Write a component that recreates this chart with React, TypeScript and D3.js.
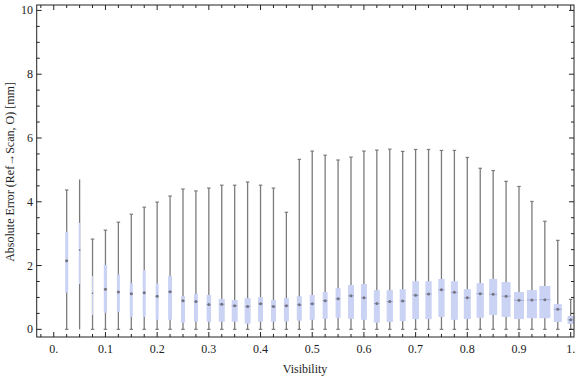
import React from "react";
import * as d3 from "d3";

const visibility = [0.025, 0.05, 0.075, 0.1, 0.125, 0.15, 0.175, 0.2, 0.225, 0.25, 0.275, 0.3, 0.325, 0.35, 0.375, 0.4, 0.425, 0.45, 0.475, 0.5, 0.525, 0.55, 0.575, 0.6, 0.625, 0.65, 0.675, 0.7, 0.725, 0.75, 0.775, 0.8, 0.825, 0.85, 0.875, 0.9, 0.925, 0.95, 0.975, 1.0];
const lowerWhisker = [0, 0, 0, 0, 0, 0, 0, 0, 0, 0, 0, 0, 0, 0, 0, 0, 0, 0, 0, 0, 0, 0, 0, 0, 0, 0, 0, 0, 0, 0, 0, 0, 0, 0, 0, 0, 0, 0, 0, 0];
const q1 = [1.15, 1.42, 0.45, 0.52, 0.55, 0.39, 0.39, 0.30, 0.30, 0.21, 0.24, 0.24, 0.24, 0.24, 0.18, 0.24, 0.24, 0.25, 0.27, 0.30, 0.33, 0.36, 0.33, 0.30, 0.21, 0.23, 0.26, 0.32, 0.32, 0.39, 0.30, 0.32, 0.36, 0.45, 0.39, 0.32, 0.35, 0.35, 0.23, 0.17];
const median = [2.15, 2.49, 1.13, 1.26, 1.17, 1.12, 1.15, 1.04, 1.18, 0.90, 0.87, 0.78, 0.79, 0.74, 0.72, 0.80, 0.72, 0.74, 0.77, 0.80, 0.90, 0.96, 1.05, 0.99, 0.81, 0.87, 0.89, 1.07, 1.11, 1.24, 1.16, 0.99, 1.12, 1.10, 1.04, 0.91, 0.92, 0.93, 0.63, 0.30];
const q3 = [3.06, 3.34, 1.67, 2.02, 1.72, 1.45, 1.86, 1.44, 1.67, 1.04, 1.11, 1.08, 0.95, 0.92, 0.98, 1.01, 0.92, 0.98, 1.04, 1.08, 1.17, 1.29, 1.39, 1.42, 1.23, 1.23, 1.26, 1.51, 1.51, 1.58, 1.51, 1.26, 1.45, 1.58, 1.48, 1.17, 1.23, 1.36, 0.79, 0.42];
const upperWhisker = [4.37, 4.70, 2.83, 3.11, 3.36, 3.61, 3.83, 3.99, 4.18, 4.40, 4.34, 4.43, 4.52, 4.52, 4.62, 4.52, 4.43, 3.67, 5.33, 5.59, 5.46, 5.31, 5.40, 5.59, 5.62, 5.65, 5.58, 5.64, 5.64, 5.61, 5.61, 5.39, 5.05, 4.98, 4.64, 4.48, 4.01, 3.39, 2.79, 0.94];
// box width in visibility units (relative spread)
const boxSpread = [0.0058, 0.0029, 0.0019, 0.0064, 0.0058, 0.0058, 0.0058, 0.0058, 0.0077, 0.0077, 0.0077, 0.0087, 0.0116, 0.0116, 0.0116, 0.0097, 0.0097, 0.0097, 0.0097, 0.0097, 0.0097, 0.0097, 0.0116, 0.0116, 0.0116, 0.0122, 0.0116, 0.0130, 0.0122, 0.0122, 0.0135, 0.0135, 0.0141, 0.0155, 0.0174, 0.0193, 0.0193, 0.0213, 0.0155, 0.0122];

const xMajorTicks = [0, 0.1, 0.2, 0.3, 0.4, 0.5, 0.6, 0.7, 0.8, 0.9, 1.0];
const xTickLabels = ["0.", "0.1", "0.2", "0.3", "0.4", "0.5", "0.6", "0.7", "0.8", "0.9", "1."];
const xMinorTicks = [-0.025, 0.025, 0.05, 0.075, 0.125, 0.15, 0.175, 0.225, 0.25, 0.275, 0.325, 0.35, 0.375, 0.425, 0.45, 0.475, 0.525, 0.55, 0.575, 0.625, 0.65, 0.675, 0.725, 0.75, 0.775, 0.825, 0.85, 0.875, 0.925, 0.95, 0.975];
const yMajorTicks = [0, 2, 4, 6, 8, 10];
const yTickLabels = ["0", "2", "4", "6", "8", "10"];
const yMinorTicks = [0.5, 1, 1.5, 2.5, 3, 3.5, 4.5, 5, 5.5, 6.5, 7, 7.5, 8.5, 9, 9.5];

const xLabel = "Visibility";
const yLabel = "Absolute Error (Ref\u2192Scan, O) [mm]";

export default function App() {
  const W = 576, H = 377;
  const left = 36.7, right = 574, top = 5, bottom = 337;
  const x = d3.scaleLinear().domain([-0.033, 1.0064]).range([left, right]);
  const y = d3.scaleLinear().domain([-0.24, 10.17]).range([bottom, top]);
  const font = "'Liberation Serif', 'Times New Roman', serif";
  const axisColor = "#222";
  const whiskerColor = "#7b7b7b";
  const boxColor = "#cbd3f5";
  const majLen = 5, minLen = 3;

  return (
    <svg width={W} height={H} style={{ position: "absolute", left: 0, top: 0, background: "#fff" }} fontFamily={font}>
      <rect x={0} y={0} width={W} height={H} fill="#fff" />
      {/* boxes */}
      {visibility.map((v, i) => {
        const cx = x(v);
        const w = x(v + boxSpread[i] / 2) - x(v - boxSpread[i] / 2);
        const capW = i === 1 ? 0 : 3.5;
        return (
          <g key={i}>
            <line x1={cx} x2={cx} y1={y(lowerWhisker[i])} y2={y(upperWhisker[i])} stroke={whiskerColor} strokeWidth={1.3} />
            {capW > 0 && (
              <>
                <line x1={cx - capW / 2} x2={cx + capW / 2} y1={y(upperWhisker[i])} y2={y(upperWhisker[i])} stroke={whiskerColor} strokeWidth={1.2} />
                <line x1={cx - capW / 2} x2={cx + capW / 2} y1={y(lowerWhisker[i])} y2={y(lowerWhisker[i])} stroke={whiskerColor} strokeWidth={1.2} />
              </>
            )}
            <rect x={cx - w / 2} y={y(q3[i])} width={w} height={y(q1[i]) - y(q3[i])} fill={boxColor} />
            <line x1={cx - w / 2} x2={cx + w / 2} y1={y(median[i])} y2={y(median[i])} stroke="#a3abd6" strokeWidth={1} />
            <circle cx={cx} cy={y(median[i])} r={w < 2.5 ? 0.8 : 1.5} fill="#75757f" />
          </g>
        );
      })}
      {/* frame */}
      <rect x={left} y={top} width={right - left} height={bottom - top} fill="none" stroke={axisColor} strokeWidth={1} />
      {/* x ticks */}
      {xMajorTicks.map((t) => (
        <g key={"xM" + t}>
          <line x1={x(t)} x2={x(t)} y1={bottom} y2={bottom - majLen} stroke={axisColor} />
          <line x1={x(t)} x2={x(t)} y1={top} y2={top + majLen} stroke={axisColor} />
        </g>
      ))}
      {xMinorTicks.map((t) => (
        <g key={"xm" + t}>
          <line x1={x(t)} x2={x(t)} y1={bottom} y2={bottom - minLen} stroke={axisColor} />
          <line x1={x(t)} x2={x(t)} y1={top} y2={top + minLen} stroke={axisColor} />
        </g>
      ))}
      {/* y ticks */}
      {yMajorTicks.map((t) => (
        <g key={"yM" + t}>
          <line x1={left} x2={left + majLen} y1={y(t)} y2={y(t)} stroke={axisColor} />
          <line x1={right} x2={right - majLen} y1={y(t)} y2={y(t)} stroke={axisColor} />
        </g>
      ))}
      {yMinorTicks.map((t) => (
        <g key={"ym" + t}>
          <line x1={left} x2={left + minLen} y1={y(t)} y2={y(t)} stroke={axisColor} />
          <line x1={right} x2={right - minLen} y1={y(t)} y2={y(t)} stroke={axisColor} />
        </g>
      ))}
      {/* tick labels */}
      {xMajorTicks.map((t, i) => (
        <text key={"xl" + t} x={x(t)} y={353} textAnchor="middle" fontSize={12} fill="#222">
          {xTickLabels[i]}
        </text>
      ))}
      {yMajorTicks.map((t, i) => (
        <text key={"yl" + t} x={33} y={y(t) + 4} textAnchor="end" fontSize={12} fill="#222">
          {yTickLabels[i]}
        </text>
      ))}
      <text x={305} y={373} textAnchor="middle" fontSize={12} fill="#222">{xLabel}</text>
      <text transform="translate(14,172) rotate(-90)" textAnchor="middle" fontSize={12} fill="#222">{yLabel}</text>
    </svg>
  );
}
